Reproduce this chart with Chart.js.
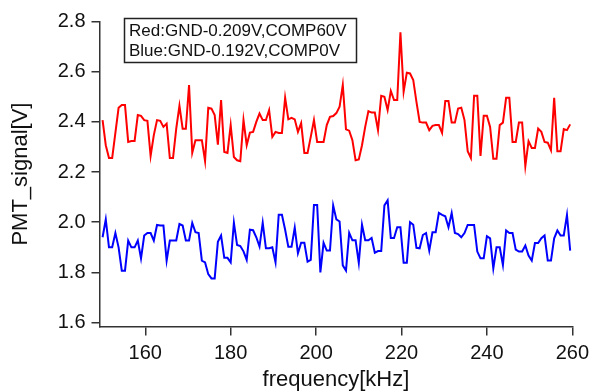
<!DOCTYPE html>
<html>
<head>
<meta charset="utf-8">
<script src="https://cdn.jsdelivr.net/npm/chart.js@4"></script>
<style>
  html, body { margin: 0; padding: 0; background: #fff; }
</style>
</head>
<body>
<canvas id="pmtChart" width="595" height="391"></canvas>
<script>
// sweep: 150 kHz upward in 0.75 kHz steps
const freqStart = 150;
const freqStep = 0.75;

// PMT signal, red trace (COMP 60V)
const redVals = [
  2.407, 2.307, 2.256, 2.256, 2.356, 2.456, 2.467, 2.467, 2.32, 2.324,
  2.324, 2.427, 2.424, 2.407, 2.404, 2.264, 2.347, 2.407, 2.404, 2.38,
  2.393, 2.256, 2.256, 2.373, 2.464, 2.373, 2.373, 2.547, 2.277, 2.327,
  2.327, 2.327, 2.244, 2.456, 2.453, 2.427, 2.309, 2.487, 2.28, 2.276,
  2.387, 2.26, 2.247, 2.243, 2.407, 2.307, 2.357, 2.36, 2.4, 2.433,
  2.407, 2.407, 2.447, 2.34, 2.36, 2.356, 2.356, 2.496, 2.41, 2.416,
  2.41, 2.36, 2.395, 2.276, 2.276, 2.34, 2.407, 2.32, 2.32, 2.32,
  2.387, 2.42, 2.423, 2.435, 2.46, 2.547, 2.37, 2.365, 2.327, 2.247,
  2.25, 2.307, 2.38, 2.443, 2.437, 2.437, 2.367, 2.504, 2.5, 2.447,
  2.523, 2.487, 2.487, 2.757, 2.52, 2.596, 2.593, 2.567, 2.48, 2.4,
  2.397, 2.397, 2.367, 2.384, 2.387, 2.387, 2.356, 2.483, 2.483, 2.397,
  2.397, 2.453, 2.456, 2.407, 2.283, 2.256, 2.504, 2.504, 2.264, 2.424,
  2.424, 2.38, 2.253, 2.253, 2.387, 2.397, 2.496, 2.496, 2.32, 2.32,
  2.397, 2.397, 2.224, 2.323, 2.296, 2.296, 2.373, 2.36, 2.32, 2.317,
  2.287, 2.496, 2.283, 2.283, 2.371, 2.367, 2.39
];

// PMT signal, blue trace (COMP 0V)
const blueVals = [
  1.94, 2.011, 1.9, 1.9, 1.957, 1.9, 1.807, 1.807, 1.927, 1.9,
  1.9, 1.927, 1.856, 1.947, 1.957, 1.957, 1.927, 1.989, 1.987, 1.987,
  1.847, 1.927, 1.927, 1.927, 1.993, 1.987, 1.927, 1.927, 1.997, 1.96,
  1.957, 1.847, 1.84, 1.793, 1.776, 1.776, 1.922, 1.947, 1.858, 1.858,
  1.84, 1.998, 1.909, 1.905, 1.884, 1.85, 1.97, 1.968, 1.94, 1.903,
  1.998, 1.896, 1.896, 1.9, 1.84, 2.03, 2.03, 1.97, 1.902, 1.902,
  1.978, 1.876, 1.918, 1.918, 1.843, 1.85, 2.069, 2.069, 1.8, 1.918,
  1.887, 1.887, 2.067, 2.011, 2.003, 1.828, 1.807, 1.958, 1.928, 1.928,
  1.838, 1.99, 1.928, 1.928, 1.937, 1.878, 1.885, 1.885, 2.067, 2.087,
  1.937, 1.937, 1.98, 1.98, 1.838, 1.838, 2.0, 1.99, 1.898, 1.896,
  1.949, 1.957, 1.887, 1.96, 1.96, 2.037, 2.029, 2.024, 1.98, 2.037,
  1.957, 1.953, 1.94, 1.957, 1.989, 1.989, 1.989, 1.883, 1.856, 1.856,
  1.944, 1.936, 1.816, 1.9, 1.9, 1.829, 1.967, 1.957, 1.957, 1.891,
  1.883, 1.883, 1.907, 1.867, 1.847, 1.917, 1.917, 1.936, 1.947, 1.847,
  1.847, 1.936, 1.967, 1.947, 1.947, 2.029, 1.887
];

const xTicks = [160, 180, 200, 220, 240, 260];
const yTicks = [1.6, 1.8, 2.0, 2.2, 2.4, 2.6, 2.8];
const legendLines = ["Red:GND-0.209V,COMP60V", "Blue:GND-0.192V,COMP0V"];

const freq = redVals.map((_, i) => freqStart + i * freqStep);
const toPoints = (vals) => vals.map((v, i) => ({ x: freq[i], y: v }));

const FONT = "'Liberation Sans', Arial, sans-serif";
const AXIS = "#333";

// boxed text annotation in the upper left
const noteBox = {
  id: "noteBox",
  afterDraw(chart) {
    const c = chart.ctx;
    c.save();
    c.fillStyle = "#fff";
    c.fillRect(124.5, 18.5, 232, 44);
    c.strokeStyle = "#222";
    c.lineWidth = 1.5;
    c.strokeRect(124.5, 18.5, 232, 44);
    c.fillStyle = "#111";
    c.font = "17px " + FONT;
    c.textBaseline = "middle";
    c.fillText(legendLines[0], 129, 31.5);
    c.fillText(legendLines[1], 129, 51);
    c.restore();
  },
};

new Chart(document.getElementById("pmtChart"), {
  type: "line",
  data: {
    datasets: [
      {
        label: "Red",
        data: toPoints(redVals),
        borderColor: "#ff0000",
        borderWidth: 2,
        pointRadius: 0,
        tension: 0,
      },
      {
        label: "Blue",
        data: toPoints(blueVals),
        borderColor: "#0000ff",
        borderWidth: 2,
        pointRadius: 0,
        tension: 0,
      },
    ],
  },
  options: {
    responsive: false,
    animation: false,
    devicePixelRatio: 1,
    layout: { padding: { top: 21.5, right: 18.2, left: 0, bottom: 0 } },
    plugins: { legend: { display: false }, tooltip: { enabled: false } },
    scales: {
      x: {
        type: "linear",
        min: 149.28,
        max: 260,
        afterBuildTicks: (s) => { s.ticks = xTicks.map((v) => ({ value: v })); },
        afterFit: (s) => { s.height = 64.4; },
        grid: { drawOnChartArea: false, drawTicks: true, tickLength: 9, color: AXIS, lineWidth: 1.5 },
        border: { display: true, color: AXIS, width: 1.5 },
        ticks: { color: "#111", font: { family: FONT, size: 20 }, padding: 6, maxRotation: 0 },
        title: {
          display: true,
          text: "frequency[kHz]",
          color: "#111",
          font: { family: FONT, size: 22, lineHeight: 1 },
          padding: { top: 0, bottom: 0 },
        },
      },
      y: {
        min: 1.584,
        max: 2.8,
        afterBuildTicks: (s) => { s.ticks = yTicks.map((v) => ({ value: v })); },
        afterFit: (s) => { s.width = 99.5; },
        grid: { drawOnChartArea: false, drawTicks: true, tickLength: 8, color: AXIS, lineWidth: 1.5 },
        border: { display: true, color: AXIS, width: 1.5 },
        ticks: {
          color: "#111",
          font: { family: FONT, size: 20 },
          padding: 6,
          callback: (v) => v.toFixed(1),
        },
        title: {
          display: true,
          text: "PMT_signal[V]",
          color: "#111",
          font: { family: FONT, size: 22, lineHeight: 1 },
          padding: { top: 10, bottom: 0 },
        },
      },
    },
  },
  plugins: [noteBox],
});
</script>
</body>
</html>
